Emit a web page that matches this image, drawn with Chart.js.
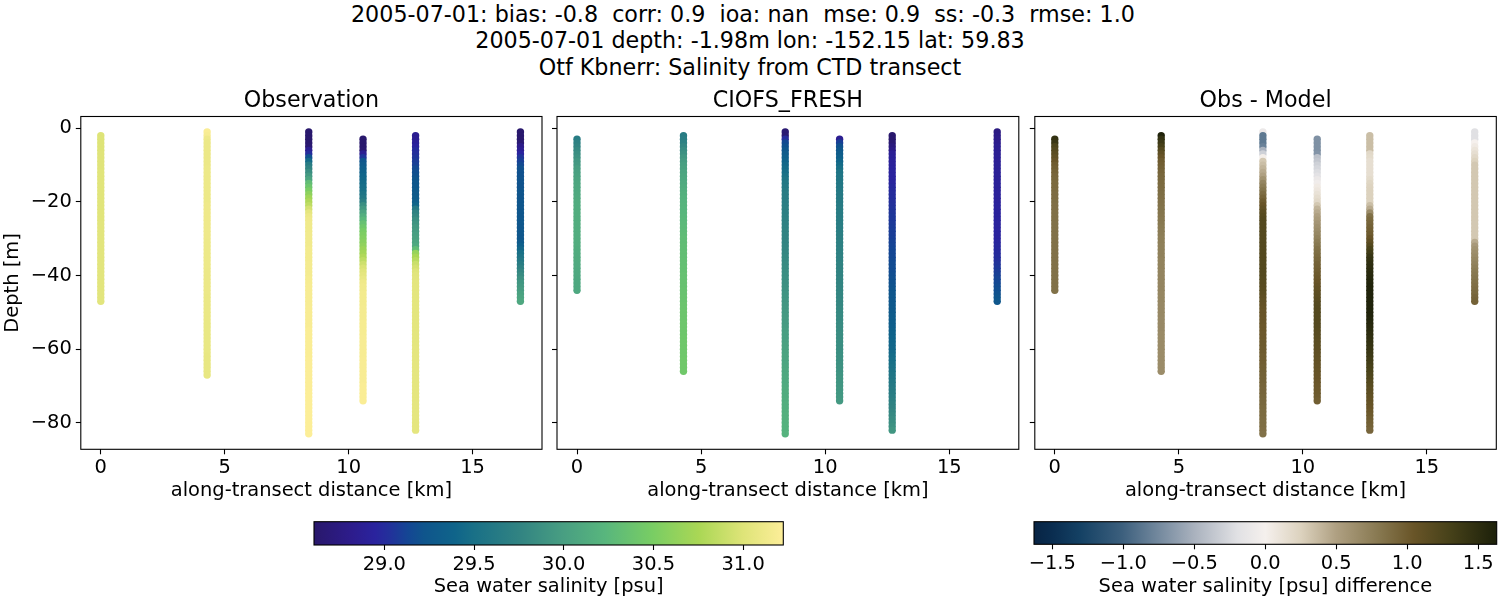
<!DOCTYPE html>
<html>
<head>
<meta charset="utf-8">
<title>Salinity from CTD transect</title>
<script src="https://cdn.jsdelivr.net/npm/chart.js@4"></script>
<style>
  html, body { margin: 0; padding: 0; background: #fff; }
  body { width: 1500px; height: 600px; position: relative; overflow: hidden; font-family: "DejaVu Sans"; }
  canvas { position: absolute; }
  .suptitle { position: absolute; left: 0; width: 1500px; text-align: center; white-space: pre; font-size: 22.22px; line-height: 26.6px; color: #000; }
</style>
</head>
<body>
<div class="suptitle" style="top:0.5px">2005-07-01: bias: -0.8  corr: 0.9  ioa: nan  mse: 0.9  ss: -0.3  rmse: 1.0  </div>
<div class="suptitle" style="top:27px">2005-07-01 depth: -1.98m lon: -152.15 lat: 59.83</div>
<div class="suptitle" style="top:53.5px">Otf Kbnerr: Salinity from CTD transect</div>
<canvas id="obs" width="550" height="423" style="left:0;top:88px"></canvas>
<canvas id="model" width="481" height="423" style="left:545px;top:88px"></canvas>
<canvas id="diff" width="474" height="423" style="left:1026px;top:88px"></canvas>
<canvas id="barSalinity" width="500" height="85" style="left:300px;top:515px"></canvas>
<canvas id="barDiff" width="486" height="85" style="left:1014px;top:515px"></canvas>
<script>
// along-transect distance of each CTD cast [km]
var castDistance = [0, 4.29, 8.39, 10.58, 12.7, 16.93];

var xTicks = [0, 5, 10, 15];
var yTicks = [0, -20, -40, -60, -80];
var salinityTicks = [29.0, 29.5, 30.0, 30.5, 31.0];
var diffTicks = [-1.5, -1.0, -0.5, 0.0, 0.5, 1.0, 1.5];

// depths of the observed casts [m]
var obsDepth1 = [-2,-3,-4,-5,-6,-7,-8,-9,-10,-11,-12,-13,-14,-15,-16,-17,-18,-19,-20,-21,-22,-23,-24,-25,-26,-27,-28,-29,-30,-31,-32,-33,-34,-35,-36,-37,-38,-39,-40,-41,-42,-43,-44,-45,-46,-47];
var obsDepth2 = [-1,-2,-3,-4,-5,-6,-7,-8,-9,-10,-11,-12,-13,-14,-15,-16,-17,-18,-19,-20,-21,-22,-23,-24,-25,-26,-27,-28,-29,-30,-31,-32,-33,-34,-35,-36,-37,-38,-39,-40,-41,-42,-43,-44,-45,-46,-47,-48,-49,-50,-51,-52,-53,-54,-55,-56,-57,-58,-59,-60,-61,-62,-63,-64,-65,-66,-67];
var obsDepth3 = [-1,-2,-3,-4,-5,-6,-7,-8,-9,-10,-11,-12,-13,-14,-15,-16,-17,-18,-19,-20,-21,-22,-23,-24,-25,-26,-27,-28,-29,-30,-31,-32,-33,-34,-35,-36,-37,-38,-39,-40,-41,-42,-43,-44,-45,-46,-47,-48,-49,-50,-51,-52,-53,-54,-55,-56,-57,-58,-59,-60,-61,-62,-63,-64,-65,-66,-67,-68,-69,-70,-71,-72,-73,-74,-75,-76,-77,-78,-79,-80,-81,-82,-83];
var obsDepth4 = [-3,-4,-5,-6,-7,-8,-9,-10,-11,-12,-13,-14,-15,-16,-17,-18,-19,-20,-21,-22,-23,-24,-25,-26,-27,-28,-29,-30,-31,-32,-33,-34,-35,-36,-37,-38,-39,-40,-41,-42,-43,-44,-45,-46,-47,-48,-49,-50,-51,-52,-53,-54,-55,-56,-57,-58,-59,-60,-61,-62,-63,-64,-65,-66,-67,-68,-69,-70,-71,-72,-73,-74];
var obsDepth5 = [-2,-3,-4,-5,-6,-7,-8,-9,-10,-11,-12,-13,-14,-15,-16,-17,-18,-19,-20,-21,-22,-23,-24,-25,-26,-27,-28,-29,-30,-31,-32,-33,-34,-35,-36,-37,-38,-39,-40,-41,-42,-43,-44,-45,-46,-47,-48,-49,-50,-51,-52,-53,-54,-55,-56,-57,-58,-59,-60,-61,-62,-63,-64,-65,-66,-67,-68,-69,-70,-71,-72,-73,-74,-75,-76,-77,-78,-79,-80,-81,-82];
var obsDepth6 = [-1,-2,-3,-4,-5,-6,-7,-8,-9,-10,-11,-12,-13,-14,-15,-16,-17,-18,-19,-20,-21,-22,-23,-24,-25,-26,-27,-28,-29,-30,-31,-32,-33,-34,-35,-36,-37,-38,-39,-40,-41,-42,-43,-44,-45,-46,-47];

// depths of the model profiles [m], the difference panel uses these too
var modelDepth1 = [-3,-4,-5,-6,-7,-8,-9,-10,-11,-12,-13,-14,-15,-16,-17,-18,-19,-20,-21,-22,-23,-24,-25,-26,-27,-28,-29,-30,-31,-32,-33,-34,-35,-36,-37,-38,-39,-40,-41,-42,-43,-44];
var modelDepth2 = [-2,-3,-4,-5,-6,-7,-8,-9,-10,-11,-12,-13,-14,-15,-16,-17,-18,-19,-20,-21,-22,-23,-24,-25,-26,-27,-28,-29,-30,-31,-32,-33,-34,-35,-36,-37,-38,-39,-40,-41,-42,-43,-44,-45,-46,-47,-48,-49,-50,-51,-52,-53,-54,-55,-56,-57,-58,-59,-60,-61,-62,-63,-64,-65,-66];
var modelDepth3 = obsDepth3;
var modelDepth4 = obsDepth4;
var modelDepth5 = obsDepth5;
var modelDepth6 = obsDepth6;

// observed salinity [psu]
var obsSalinity1 = [31.00,31.00,31.00,31.00,31.00,31.01,31.01,31.01,31.01,31.01,
  31.02,31.02,31.02,31.02,31.02,31.02,31.02,31.02,31.02,31.02,
  31.02,31.02,31.02,31.02,31.03,31.03,31.03,31.03,31.03,31.03,
  31.03,31.03,31.03,31.03,31.03,31.03,31.03,31.03,31.03,31.03,
  31.03,31.03,31.03,31.03,31.03,31.03];
var obsSalinity2 = [31.20,31.18,31.12,31.10,31.10,31.10,31.10,31.10,31.10,31.10,
  31.11,31.11,31.11,31.11,31.11,31.11,31.11,31.11,31.11,31.11,
  31.12,31.12,31.12,31.12,31.12,31.12,31.12,31.12,31.12,31.12,
  31.11,31.11,31.11,31.11,31.11,31.11,31.11,31.11,31.10,31.10,
  31.10,31.10,31.10,31.10,31.10,31.09,31.09,31.09,31.09,31.09,
  31.09,31.09,31.08,31.08,31.08,31.08,31.08,31.08,31.08,31.08,
  31.08,31.07,31.07,31.07,31.07,31.07,31.07];
var obsSalinity3 = [28.62,28.62,28.62,28.63,28.65,28.85,29.00,29.20,29.45,29.65,
  29.75,29.85,29.95,30.05,30.30,30.40,30.50,30.60,30.70,30.78,
  30.85,30.95,31.05,31.10,31.12,31.13,31.13,31.13,31.14,31.14,
  31.14,31.14,31.15,31.15,31.15,31.15,31.16,31.16,31.16,31.16,
  31.17,31.17,31.18,31.18,31.18,31.18,31.18,31.18,31.19,31.19,
  31.19,31.19,31.19,31.19,31.20,31.20,31.20,31.20,31.20,31.20,
  31.20,31.20,31.21,31.21,31.21,31.21,31.21,31.21,31.21,31.21,
  31.21,31.22,31.22,31.22,31.22,31.22,31.22,31.22,31.22,31.22,
  31.22,31.22,31.22];
var obsSalinity4 = [28.62,28.62,28.62,28.64,28.85,29.05,29.22,29.28,29.32,29.36,
  29.40,29.42,29.45,29.48,29.50,29.55,29.60,29.70,29.85,29.95,
  30.05,30.15,30.25,30.35,30.42,30.48,30.52,30.55,30.58,30.62,
  30.68,30.72,30.78,30.85,30.92,30.98,31.02,31.05,31.08,31.12,
  31.14,31.14,31.15,31.15,31.15,31.15,31.16,31.16,31.16,31.16,
  31.17,31.17,31.17,31.17,31.18,31.18,31.18,31.18,31.18,31.18,
  31.19,31.19,31.19,31.19,31.19,31.19,31.19,31.20,31.20,31.20,
  31.20,31.20];
var obsSalinity5 = [28.85,28.85,28.90,28.95,29.00,29.02,29.05,29.08,29.10,29.15,
  29.18,29.20,29.22,29.24,29.26,29.28,29.28,29.30,29.32,29.40,
  29.62,29.72,29.78,29.85,29.90,29.95,29.97,30.00,30.02,30.05,
  30.10,30.30,30.65,30.75,30.82,30.90,30.95,31.00,31.02,31.03,
  31.04,31.04,31.04,31.04,31.04,31.04,31.04,31.04,31.04,31.04,
  31.04,31.04,31.04,31.04,31.04,31.04,31.04,31.04,31.05,31.05,
  31.05,31.05,31.05,31.05,31.05,31.05,31.05,31.05,31.05,31.05,
  31.05,31.05,31.05,31.05,31.05,31.05,31.05,31.05,31.05,31.05,
  31.05];
var obsSalinity6 = [28.62,28.62,28.62,28.65,28.80,28.85,28.95,29.05,29.10,29.15,
  29.20,29.20,29.20,29.21,29.21,29.21,29.22,29.22,29.22,29.22,
  29.23,29.23,29.23,29.23,29.24,29.24,29.24,29.25,29.25,29.25,
  29.28,29.35,29.42,29.50,29.55,29.60,29.65,29.72,29.78,29.82,
  29.88,29.92,29.95,29.98,30.02,30.05,30.08];

// model salinity [psu]
var modelSalinity1 = [29.65,29.72,29.76,29.80,29.85,29.89,29.93,29.95,29.99,30.01,
  30.03,30.05,30.07,30.08,30.09,30.10,30.11,30.12,30.13,30.13,
  30.14,30.14,30.14,30.14,30.14,30.14,30.14,30.14,30.14,30.14,
  30.13,30.13,30.12,30.12,30.11,30.11,30.10,30.10,30.09,30.09,
  30.09,30.09];
var modelSalinity2 = [29.65,29.68,29.72,29.78,29.83,29.88,29.93,29.97,30.00,30.02,
  30.05,30.07,30.09,30.11,30.13,30.15,30.17,30.19,30.20,30.21,
  30.22,30.23,30.24,30.25,30.26,30.27,30.28,30.29,30.30,30.30,
  30.31,30.31,30.32,30.32,30.33,30.33,30.34,30.34,30.35,30.35,
  30.36,30.36,30.37,30.37,30.38,30.38,30.39,30.39,30.40,30.40,
  30.40,30.41,30.41,30.41,30.41,30.42,30.42,30.42,30.42,30.42,
  30.42,30.43,30.43,30.43,30.43];
var modelSalinity3 = [28.65,28.65,29.00,29.15,29.20,29.25,29.30,29.35,29.38,29.42,
  29.45,29.48,29.52,29.56,29.60,29.62,29.64,29.65,29.66,29.67,
  29.68,29.69,29.70,29.71,29.72,29.72,29.73,29.74,29.74,29.75,
  29.76,29.77,29.78,29.79,29.80,29.81,29.82,29.83,29.84,29.85,
  29.86,29.87,29.88,29.89,29.90,29.91,29.92,29.93,29.94,29.95,
  29.96,29.97,29.97,29.98,29.99,30.00,30.00,30.01,30.02,30.03,
  30.04,30.05,30.05,30.06,30.07,30.08,30.09,30.10,30.10,30.11,
  30.12,30.13,30.13,30.14,30.15,30.15,30.16,30.17,30.17,30.18,
  30.19,30.19,30.20];
var modelSalinity4 = [28.85,29.10,29.20,29.25,29.30,29.35,29.40,29.45,29.50,29.55,
  29.57,29.58,29.59,29.60,29.61,29.62,29.63,29.63,29.64,29.65,
  29.65,29.66,29.67,29.67,29.68,29.68,29.69,29.70,29.71,29.71,
  29.72,29.72,29.73,29.73,29.74,29.74,29.75,29.75,29.76,29.76,
  29.77,29.77,29.78,29.78,29.79,29.79,29.80,29.80,29.81,29.81,
  29.82,29.83,29.83,29.84,29.84,29.85,29.85,29.85,29.86,29.87,
  29.87,29.88,29.89,29.89,29.90,29.91,29.91,29.92,29.93,29.93,
  29.94,29.95];
var modelSalinity5 = [28.62,28.62,28.65,28.72,28.78,28.88,28.90,28.91,28.92,28.93,
  28.94,28.95,28.95,28.96,28.98,28.99,29.00,29.01,29.02,29.03,
  29.04,29.05,29.06,29.06,29.07,29.08,29.09,29.09,29.10,29.11,
  29.12,29.13,29.13,29.14,29.15,29.16,29.17,29.17,29.18,29.19,
  29.20,29.21,29.22,29.23,29.24,29.25,29.26,29.27,29.28,29.30,
  29.31,29.33,29.34,29.36,29.37,29.39,29.40,29.41,29.42,29.44,
  29.46,29.48,29.50,29.52,29.54,29.56,29.58,29.60,29.62,29.64,
  29.66,29.68,29.71,29.73,29.75,29.78,29.80,29.83,29.85,29.88,
  29.92];
var modelSalinity6 = [28.75,28.78,28.80,28.82,28.85,28.86,28.87,28.88,28.88,28.89,
  28.89,28.90,28.90,28.90,28.91,28.91,28.91,28.92,28.92,28.92,
  28.93,28.93,28.93,28.93,28.94,28.94,28.94,28.95,28.95,28.95,
  28.96,28.97,28.98,28.99,29.00,29.02,29.04,29.06,29.08,29.10,
  29.12,29.14,29.16,29.18,29.20,29.22,29.25];

// observation minus model [psu]
var diffValues1 = [1.45,1.40,1.25,1.20,1.15,1.10,1.05,1.00,0.98,0.95,
  0.93,0.92,0.90,0.90,0.89,0.88,0.88,0.87,0.86,0.86,
  0.85,0.85,0.85,0.85,0.85,0.85,0.85,0.85,0.85,0.85,
  0.85,0.85,0.85,0.85,0.85,0.85,0.85,0.85,0.85,0.85,
  0.85,0.85];
var diffValues2 = [1.60,1.45,1.38,1.30,1.20,1.12,1.05,1.00,0.98,0.96,
  0.94,0.92,0.91,0.90,0.89,0.88,0.87,0.86,0.85,0.84,
  0.83,0.82,0.81,0.80,0.79,0.78,0.77,0.76,0.75,0.75,
  0.74,0.74,0.73,0.73,0.72,0.72,0.72,0.71,0.71,0.71,
  0.70,0.70,0.70,0.69,0.69,0.69,0.68,0.68,0.68,0.68,
  0.67,0.67,0.67,0.67,0.66,0.66,0.66,0.66,0.66,0.65,
  0.65,0.65,0.65,0.65,0.65];
var diffValues3 = [-0.10,-0.85,-0.85,-0.85,-0.80,-0.50,-0.30,0.02,0.30,0.35,
  0.40,0.45,0.50,0.60,0.70,0.76,0.82,0.88,0.94,1.00,
  1.05,1.10,1.15,1.18,1.20,1.20,1.20,1.20,1.20,1.20,
  1.20,1.20,1.20,1.20,1.20,1.20,1.20,1.20,1.20,1.20,
  1.19,1.18,1.17,1.16,1.14,1.12,1.10,1.09,1.07,1.05,
  1.05,1.04,1.04,1.03,1.03,1.02,1.02,1.01,1.01,1.00,
  1.00,0.99,0.99,0.98,0.97,0.97,0.96,0.95,0.95,0.94,
  0.93,0.93,0.92,0.91,0.91,0.90,0.89,0.89,0.88,0.87,
  0.87,0.86,0.85];
var diffValues4 = [-0.70,-0.70,-0.70,-0.70,-0.68,-0.40,-0.36,-0.30,-0.26,-0.22,
  -0.18,-0.10,-0.05,0.05,0.08,0.12,0.16,0.20,0.30,0.40,
  0.45,0.50,0.54,0.58,0.62,0.65,0.68,0.72,0.76,0.80,
  0.84,0.87,0.90,0.92,0.95,0.97,0.99,1.01,1.03,1.05,
  1.08,1.10,1.13,1.15,1.17,1.19,1.20,1.20,1.20,1.20,
  1.19,1.19,1.18,1.17,1.16,1.15,1.14,1.13,1.12,1.11,
  1.10,1.09,1.08,1.07,1.06,1.05,1.04,1.03,1.02,1.01,
  1.00,0.98];
var diffValues5 = [0.35,0.35,0.35,0.35,0.35,0.20,0.18,0.15,0.15,0.15,
  0.15,0.15,0.18,0.22,0.24,0.25,0.25,0.25,0.25,0.35,
  0.45,0.65,0.85,0.90,0.93,0.96,0.98,1.00,1.05,1.12,
  1.20,1.28,1.35,1.42,1.45,1.48,1.50,1.52,1.54,1.56,
  1.58,1.60,1.60,1.60,1.60,1.60,1.60,1.60,1.60,1.60,
  1.58,1.56,1.54,1.52,1.50,1.48,1.46,1.44,1.42,1.40,
  1.38,1.35,1.33,1.30,1.28,1.25,1.23,1.20,1.18,1.15,
  1.13,1.11,1.09,1.07,1.05,1.03,1.01,0.99,0.97,0.95,
  0.93];
var diffValues6 = [-0.20,-0.20,-0.20,0.00,0.05,0.10,0.15,0.20,0.25,0.30,
  0.30,0.30,0.30,0.30,0.30,0.30,0.30,0.30,0.30,0.30,
  0.30,0.30,0.30,0.30,0.30,0.30,0.30,0.30,0.30,0.30,
  0.45,0.55,0.60,0.63,0.66,0.69,0.72,0.75,0.78,0.80,
  0.82,0.84,0.86,0.88,0.90,0.93,0.95];

var salinityRange = [28.608, 31.224];
var diffRange = [-1.629, 1.63];

// colour ramps sampled from the colour bars: position 0-1, r, g, b
var halineStops = [
  [0.00, 41, 24, 107], [0.08, 45, 28, 140], [0.13, 42, 35, 158], [0.16, 35, 48, 155], [0.20, 20, 70, 148],
  [0.235, 15, 85, 140], [0.30, 15, 100, 138], [0.34, 25, 112, 135], [0.44, 50, 132, 130], [0.53, 72, 158, 130],
  [0.62, 88, 182, 125], [0.72, 120, 205, 100], [0.82, 170, 215, 85], [0.914, 222, 228, 120],
  [1.00, 253, 238, 153]];
var diffStops = [
  [0.00, 8, 36, 68], [0.04, 10, 45, 80], [0.10, 20, 65, 100], [0.19, 60, 95, 125],
  [0.347, 170, 178, 190], [0.44, 225, 225, 228], [0.50, 245, 240, 237], [0.577, 220, 210, 190],
  [0.653, 175, 160, 130], [0.745, 135, 120, 80], [0.82, 105, 85, 40], [0.90, 70, 65, 25],
  [1.00, 28, 32, 10]];

function rampColor(stops, t) {
  t = Math.min(1, Math.max(0, t));
  for (var i = 1; i < stops.length; i++) {
    if (t <= stops[i][0]) {
      var a = stops[i - 1], b = stops[i];
      var f = (t - a[0]) / (b[0] - a[0]);
      return 'rgb(' + [1, 2, 3].map(function(k) { return Math.round(a[k] + (b[k] - a[k]) * f); }).join(',') + ')';
    }
  }
  return 'rgb(' + stops[stops.length - 1].slice(1).join(',') + ')';
}

function castPoints(depths, values) {
  return depths.map(function(d, i) { return { d: d, v: values[i] }; });
}

// one scatter dataset per cast
function castDatasets(casts, stops, range) {
  return casts.map(function(cast, c) {
    return {
      data: cast.map(function(p) { return { x: castDistance[c], y: p.d, v: p.v }; }),
      showLine: false,
      pointRadius: 3.7,
      pointHoverRadius: 3.7,
      pointBorderWidth: 0,
      pointBackgroundColor: function(ctx) {
        return rampColor(stops, (ctx.raw.v - range[0]) / (range[1] - range[0]));
      }
    };
  });
}

var obsCasts = [castPoints(obsDepth1, obsSalinity1), castPoints(obsDepth2, obsSalinity2), castPoints(obsDepth3, obsSalinity3),
  castPoints(obsDepth4, obsSalinity4), castPoints(obsDepth5, obsSalinity5), castPoints(obsDepth6, obsSalinity6)];
var modelCasts = [castPoints(modelDepth1, modelSalinity1), castPoints(modelDepth2, modelSalinity2), castPoints(modelDepth3, modelSalinity3),
  castPoints(modelDepth4, modelSalinity4), castPoints(modelDepth5, modelSalinity5), castPoints(modelDepth6, modelSalinity6)];
var diffCasts = [castPoints(modelDepth1, diffValues1), castPoints(modelDepth2, diffValues2), castPoints(modelDepth3, diffValues3),
  castPoints(modelDepth4, diffValues4), castPoints(modelDepth5, diffValues5), castPoints(modelDepth6, diffValues6)];

Chart.defaults.font.family = '"DejaVu Sans"';
Chart.defaults.color = '#000';
Chart.defaults.animation = false;

// matplotlib style box around the plot area
var framePlugin = {
  id: 'frame',
  afterDraw: function(chart) {
    var a = chart.chartArea, c = chart.ctx;
    c.save();
    c.strokeStyle = '#000';
    c.lineWidth = 1.1;
    c.strokeRect(a.left, a.top, a.right - a.left, a.bottom - a.top);
    c.restore();
  }
};

function tickGrid() {
  return { drawOnChartArea: false, drawTicks: true, tickLength: 5, tickColor: '#000', tickWidth: 1.1 };
}

function setTicks(values) {
  return function(axis) {
    axis.ticks = values.map(function(v) { return { value: v }; });
  };
}

function panel(id, title, casts, stops, range, yWidth, paddingRight, showY) {
  var yAxis = {
    type: 'linear',
    min: -87.2,
    max: 3.2,
    afterBuildTicks: setTicks(yTicks),
    afterFit: function(s) { s.width = yWidth; },
    grid: tickGrid(),
    border: { display: false },
    ticks: {
      display: showY,
      autoSkip: false,
      padding: 4,
      font: { size: 19.44 },
      callback: function(v) { return String(v).replace('-', '\u2212'); }
    }
  };
  if (showY) {
    yAxis.title = { display: true, text: 'Depth [m]', font: { size: 19.44 }, padding: { top: 1, bottom: 0 } };
  }
  return new Chart(document.getElementById(id), {
    type: 'scatter',
    data: { datasets: castDatasets(casts, stops, range) },
    options: {
      responsive: false,
      layout: { padding: { right: paddingRight } },
      plugins: {
        legend: { display: false },
        tooltip: { enabled: false },
        title: {
          display: true,
          text: title,
          fullSize: false,
          font: { size: 22.22, weight: 'normal' },
          padding: { top: 0, bottom: 1.83 }
        }
      },
      scales: {
        x: {
          type: 'linear',
          min: -0.806,
          max: 17.8,
          afterBuildTicks: setTicks(xTicks),
          afterFit: function(s) { s.height = 61.7; },
          grid: tickGrid(),
          border: { display: false },
          ticks: { autoSkip: false, maxRotation: 0, padding: 2, font: { size: 19.44 } },
          title: {
            display: true,
            text: 'along-transect distance [km]',
            font: { size: 19.44 },
            padding: { top: 0, bottom: 8.3 }
          }
        },
        y: yAxis
      }
    },
    plugins: [framePlugin]
  });
}

function colorBar(id, label, stops, range, ticks, paddingLeft, paddingRight, fitHeight) {
  return new Chart(document.getElementById(id), {
    type: 'bar',
    data: {
      labels: [label],
      datasets: [{
        data: [range],
        barPercentage: 1,
        categoryPercentage: 1,
        backgroundColor: function(ctx) {
          var a = ctx.chart.chartArea;
          if (!a) { return '#888'; }
          var g = ctx.chart.ctx.createLinearGradient(a.left, 0, a.right, 0);
          stops.forEach(function(s) { g.addColorStop(s[0], rampColor(stops, s[0])); });
          return g;
        }
      }]
    },
    options: {
      responsive: false,
      indexAxis: 'y',
      layout: { padding: { top: 6.7, left: paddingLeft, right: paddingRight } },
      plugins: { legend: { display: false }, tooltip: { enabled: false } },
      scales: {
        x: {
          type: 'linear',
          min: range[0],
          max: range[1],
          afterBuildTicks: setTicks(ticks),
          afterFit: function(s) { s.height = fitHeight; },
          grid: tickGrid(),
          border: { display: false },
          ticks: {
            autoSkip: false,
            maxRotation: 0,
            padding: 3,
            font: { size: 19.44 },
            callback: function(v) { return v.toFixed(1).replace('-', '\u2212'); }
          },
          title: { display: true, text: label, font: { size: 19.44 }, padding: { top: 0, bottom: 1 } }
        },
        y: { type: 'category', display: false }
      }
    },
    plugins: [framePlugin]
  });
}

panel('obs', 'Observation', obsCasts, halineStops, salinityRange, 80.8, 8, true);
panel('model', 'CIOFS_FRESH', modelCasts, halineStops, salinityRange, 12, 7.2, false);
panel('diff', 'Obs - Model', diffCasts, diffStops, diffRange, 8.8, 3.5, false);
colorBar('barSalinity', 'Sea water salinity [psu]', halineStops, salinityRange, salinityTicks, 14, 16.7, 55);
colorBar('barDiff', 'Sea water salinity [psu] difference', diffStops, diffRange, diffTicks, 20, 3.3, 55.7);
</script>
</body>
</html>
